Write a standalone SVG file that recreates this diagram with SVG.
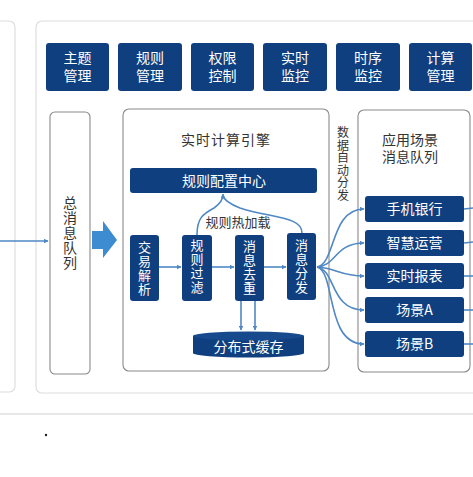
<svg xmlns="http://www.w3.org/2000/svg" width="473" height="477" viewBox="0 0 473 477">
<defs>
<style>
.panel{fill:#fff;stroke:#dedede;stroke-width:1.2}
.box{fill:#fff;stroke:#8a8a8a;stroke-width:1.1}
.btn{fill:#0f3f7e}
.wt{fill:#fff;font-family:"Noto Sans CJK SC","Liberation Sans",sans-serif;font-size:14px;text-anchor:middle}
.vt{fill:#fff;font-family:"Noto Sans CJK SC","Liberation Sans",sans-serif;font-size:13px;text-anchor:middle}
.dt{fill:#333;font-family:"Noto Sans CJK SC","Liberation Sans",sans-serif;font-size:14px;text-anchor:middle}
.ln{fill:none;stroke:#4f88c4;stroke-width:1.6}
</style>
<marker id="ah" viewBox="0 0 10 10" refX="9" refY="5" markerWidth="5" markerHeight="5" orient="auto" markerUnits="userSpaceOnUse">
<path d="M0,0 L10,5 L0,10 z" fill="#4f88c4"/>
</marker>
</defs>
<rect width="473" height="477" fill="#fff"/>
<g id="frames">
<rect class="panel" x="-10" y="21" width="25" height="371" rx="6"/>
<rect class="panel" x="36" y="21" width="460" height="372" rx="6"/>
<line x1="0" y1="414" x2="473" y2="414" stroke="#cfcfcf" stroke-width="1.2"/>
<circle cx="46" cy="435" r="1.2" fill="#222"/>
</g>
<g id="top-buttons">
<g id="t1"><rect class="btn" x="46" y="43" width="63" height="48" rx="3"/><text class="wt" x="77.5" y="63">主题</text><text class="wt" x="77.5" y="81">管理</text></g>
<g id="t2"><rect class="btn" x="118" y="43" width="64" height="48" rx="3"/><text class="wt" x="150" y="63">规则</text><text class="wt" x="150" y="81">管理</text></g>
<g id="t3"><rect class="btn" x="191" y="43" width="63" height="48" rx="3"/><text class="wt" x="222.5" y="63">权限</text><text class="wt" x="222.5" y="81">控制</text></g>
<g id="t4"><rect class="btn" x="263" y="43" width="64" height="48" rx="3"/><text class="wt" x="295" y="63">实时</text><text class="wt" x="295" y="81">监控</text></g>
<g id="t5"><rect class="btn" x="336" y="43" width="64" height="48" rx="3"/><text class="wt" x="368" y="63">时序</text><text class="wt" x="368" y="81">监控</text></g>
<g id="t6"><rect class="btn" x="409" y="43" width="63" height="48" rx="3"/><text class="wt" x="440.5" y="63">计算</text><text class="wt" x="440.5" y="81">管理</text></g>
</g>
<g id="mq">
<rect class="box" x="50" y="112" width="40" height="262" rx="5"/>
<text class="dt"><tspan x="70" y="208">总</tspan><tspan x="70" y="223">消</tspan><tspan x="70" y="238">息</tspan><tspan x="70" y="253">队</tspan><tspan x="70" y="268">列</tspan></text>
</g>
<g id="engine">
<rect class="box" x="123" y="109" width="206" height="262" rx="6"/>
<text class="dt" x="226" y="145" letter-spacing="1">实时计算引擎</text>
</g>
<g id="rulecfg"><rect class="btn" x="130" y="168" width="187" height="25" rx="3"/><text class="wt" x="224" y="185.5">规则配置中心</text></g>
<g id="parse"><rect class="btn" x="130" y="235" width="29" height="66" rx="3"/><text class="vt"><tspan x="144.5" y="252">交</tspan><tspan x="144.5" y="266">易</tspan><tspan x="144.5" y="280">解</tspan><tspan x="144.5" y="294">析</tspan></text></g>
<g id="filter"><rect class="btn" x="182" y="235" width="30" height="66" rx="3"/><text class="vt"><tspan x="197" y="250">规</tspan><tspan x="197" y="264">则</tspan><tspan x="197" y="278">过</tspan><tspan x="197" y="292">滤</tspan></text></g>
<g id="dedup"><rect class="btn" x="235" y="235" width="29" height="66" rx="3"/><text class="vt"><tspan x="249.5" y="251">消</tspan><tspan x="249.5" y="265">息</tspan><tspan x="249.5" y="279">去</tspan><tspan x="249.5" y="293">重</tspan></text></g>
<g id="dispatch"><rect class="btn" x="287" y="233" width="29" height="67" rx="3"/><text class="vt"><tspan x="301.5" y="250">消</tspan><tspan x="301.5" y="264">息</tspan><tspan x="301.5" y="278">分</tspan><tspan x="301.5" y="292">发</tspan></text></g>
<g id="cache">
<path d="M193,336 L193,353 A55.5,4.5 0 0 0 304,353 L304,336 z" fill="#0f3f7e"/>
<ellipse cx="248.5" cy="336" rx="55.5" ry="4.5" fill="#164a8c"/>
<text class="wt" x="248.5" y="352">分布式缓存</text>
</g>
<g id="autodist">
<text class="dt" style="font-size:12px"><tspan x="343" y="137">数</tspan><tspan x="343" y="149.5">据</tspan><tspan x="343" y="162">自</tspan><tspan x="343" y="174.5">动</tspan><tspan x="343" y="187">分</tspan><tspan x="343" y="199.5">发</tspan></text>
</g>
<g id="scenes">
<rect class="box" x="358" y="110" width="112" height="262" rx="6"/>
<text class="dt" x="410" y="145">应用场景</text>
<text class="dt" x="410" y="162">消息队列</text>
</g>
<g id="s1"><rect class="btn" x="365" y="196" width="99" height="26" rx="3"/><text class="wt" x="414.5" y="214">手机银行</text></g>
<g id="s2"><rect class="btn" x="365" y="230" width="99" height="26" rx="3"/><text class="wt" x="414.5" y="248">智慧运营</text></g>
<g id="s3"><rect class="btn" x="365" y="263" width="99" height="26" rx="3"/><text class="wt" x="414.5" y="281">实时报表</text></g>
<g id="s4"><rect class="btn" x="365" y="297" width="99" height="26" rx="3"/><text class="wt" x="414.5" y="315">场景A</text></g>
<g id="s5"><rect class="btn" x="365" y="331" width="99" height="26" rx="3"/><text class="wt" x="414.5" y="349">场景B</text></g>
<g id="connectors">
<line class="ln" x1="0" y1="241" x2="48" y2="241" marker-end="url(#ah)" stroke-width="1.2"/>
<path d="M92,231 L103,231 L103,221 L117,240 L103,258 L103,249 L92,249 z" fill="#3d8bd0"/>
<line class="ln" x1="159" y1="267" x2="181" y2="267" marker-end="url(#ah)"/>
<line class="ln" x1="212" y1="267" x2="234" y2="267" marker-end="url(#ah)"/>
<line class="ln" x1="264" y1="267" x2="286" y2="267" marker-end="url(#ah)"/>
<path class="ln" d="M197,235 C197,218 203,214 214,208 C220,204 223,200 223,194" marker-end="url(#ah)"/>
<path class="ln" d="M302,233 C302,216 270,218 240,208 C230,204 224,200 223,196"/>
<line class="ln" x1="241" y1="301" x2="241" y2="330" marker-end="url(#ah)"/>
<line class="ln" x1="255" y1="301" x2="255" y2="330" marker-end="url(#ah)"/>
<path class="ln" d="M317,267 C336,264 330,209 364,209" marker-end="url(#ah)"/>
<path class="ln" d="M317,267 C336,266 335,243 364,243" marker-end="url(#ah)"/>
<path class="ln" d="M317,267 C336,268 340,276 364,276" marker-end="url(#ah)"/>
<path class="ln" d="M317,267 C336,270 330,310 364,310" marker-end="url(#ah)"/>
<path class="ln" d="M317,267 C336,272 325,344 364,344" marker-end="url(#ah)"/>
<line class="ln" x1="464" y1="209" x2="473" y2="208"/>
<line class="ln" x1="464" y1="243" x2="473" y2="242"/>
<line class="ln" x1="464" y1="276" x2="473" y2="276"/>
<line class="ln" x1="464" y1="310" x2="473" y2="310"/>
<line class="ln" x1="464" y1="344" x2="473" y2="344"/>
</g>
<text class="dt" x="238" y="227" style="font-size:13px">规则热加载</text>
</svg>
